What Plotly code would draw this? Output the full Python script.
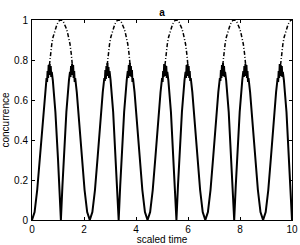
import plotly.graph_objects as go

# ---- data ----
t_solid = [
    0, 0.1, 0.2, 0.3, 0.4, 0.5, 0.56, 0.58, 0.6, 0.62, 0.64, 0.66, 0.68, 0.70, 0.72, 0.74, 0.76, 0.8, 0.9, 1.0, 1.05, 1.111,
    1.17, 1.222, 1.322, 1.422, 1.462, 1.482, 1.502, 1.522, 1.542, 1.562, 1.582, 1.602, 1.622, 1.642, 1.662, 1.722, 1.822, 1.922, 2.022, 2.122, 2.222,
    2.322, 2.422, 2.522, 2.622, 2.722, 2.782, 2.802, 2.822, 2.842, 2.862, 2.882, 2.902, 2.922, 2.942, 2.962, 2.982, 3.022, 3.122, 3.222, 3.272, 3.333,
    3.392, 3.444, 3.544, 3.644, 3.684, 3.704, 3.724, 3.744, 3.764, 3.784, 3.804, 3.824, 3.844, 3.864, 3.884, 3.944, 4.044, 4.144, 4.244, 4.344, 4.444,
    4.544, 4.644, 4.744, 4.844, 4.944, 5.004, 5.024, 5.044, 5.064, 5.084, 5.104, 5.124, 5.144, 5.164, 5.184, 5.204, 5.244, 5.344, 5.444, 5.494, 5.555,
    5.614, 5.666, 5.766, 5.866, 5.906, 5.926, 5.946, 5.966, 5.986, 6.006, 6.026, 6.046, 6.066, 6.086, 6.106, 6.166, 6.266, 6.366, 6.466, 6.566, 6.666,
    6.766, 6.866, 6.966, 7.066, 7.166, 7.226, 7.246, 7.266, 7.286, 7.306, 7.326, 7.346, 7.366, 7.386, 7.406, 7.426, 7.466, 7.566, 7.666, 7.716, 7.777,
    7.836, 7.888, 7.988, 8.088, 8.128, 8.148, 8.168, 8.188, 8.208, 8.228, 8.248, 8.268, 8.288, 8.308, 8.328, 8.388, 8.488, 8.588, 8.688, 8.788, 8.888,
    8.988, 9.088, 9.188, 9.288, 9.388, 9.448, 9.468, 9.488, 9.508, 9.528, 9.548, 9.568, 9.588, 9.608, 9.628, 9.648, 9.688, 9.788, 9.888, 9.938, 10.0,
]
c_solid = [
    0, 0.04, 0.15, 0.31, 0.485, 0.64, 0.71, 0.69, 0.745, 0.71, 0.775, 0.725, 0.78, 0.725, 0.77, 0.715, 0.74, 0.70, 0.54, 0.305, 0.17, 0,
    0.17, 0.305, 0.54, 0.70, 0.74, 0.715, 0.77, 0.725, 0.78, 0.725, 0.775, 0.71, 0.745, 0.69, 0.71, 0.64, 0.485, 0.31, 0.15, 0.04, 0,
    0.04, 0.15, 0.31, 0.485, 0.64, 0.71, 0.695, 0.75, 0.705, 0.77, 0.72, 0.785, 0.73, 0.765, 0.71, 0.745, 0.70, 0.54, 0.305, 0.17, 0,
    0.17, 0.305, 0.54, 0.70, 0.745, 0.71, 0.775, 0.72, 0.785, 0.73, 0.77, 0.715, 0.75, 0.69, 0.71, 0.64, 0.485, 0.31, 0.15, 0.04, 0,
    0.04, 0.15, 0.31, 0.485, 0.64, 0.71, 0.69, 0.745, 0.715, 0.78, 0.725, 0.775, 0.72, 0.77, 0.71, 0.74, 0.70, 0.54, 0.305, 0.17, 0,
    0.17, 0.305, 0.54, 0.70, 0.74, 0.71, 0.775, 0.725, 0.78, 0.72, 0.77, 0.71, 0.745, 0.695, 0.71, 0.64, 0.485, 0.31, 0.15, 0.04, 0,
    0.04, 0.15, 0.31, 0.485, 0.64, 0.71, 0.695, 0.75, 0.71, 0.775, 0.72, 0.785, 0.725, 0.77, 0.715, 0.74, 0.70, 0.54, 0.305, 0.17, 0,
    0.17, 0.305, 0.54, 0.70, 0.745, 0.715, 0.77, 0.72, 0.78, 0.73, 0.775, 0.71, 0.745, 0.69, 0.71, 0.64, 0.485, 0.31, 0.15, 0.04, 0,
    0.04, 0.15, 0.31, 0.485, 0.64, 0.71, 0.69, 0.745, 0.71, 0.78, 0.725, 0.775, 0.72, 0.77, 0.715, 0.74, 0.70, 0.54, 0.305, 0.17, 0,
]

t_dashed = [
    0.671, 0.711, 0.761, 0.811, 0.861, 0.911, 0.961, 1.011, 1.061, 1.111, 1.161, 1.211, 1.261, 1.311, 1.361, 1.411, 1.461, 1.511, 1.551, None,
    2.893, 2.933, 2.983, 3.033, 3.083, 3.133, 3.183, 3.233, 3.283, 3.333, 3.383, 3.433, 3.483, 3.533, 3.583, 3.633, 3.683, 3.733, 3.773, None,
    5.115, 5.155, 5.205, 5.255, 5.305, 5.355, 5.405, 5.455, 5.505, 5.555, 5.605, 5.655, 5.705, 5.755, 5.805, 5.855, 5.905, 5.955, 5.995, None,
    7.337, 7.377, 7.427, 7.477, 7.527, 7.577, 7.627, 7.677, 7.727, 7.777, 7.827, 7.877, 7.927, 7.977, 8.027, 8.077, 8.127, 8.177, 8.217, None,
    9.56, 9.6, 9.65, 9.7, 9.75, 9.8, 9.85, 9.9, 9.95, 10.0,
]
c_dashed = [
    0.775, 0.83, 0.88, 0.915, 0.94, 0.96, 0.978, 0.99, 0.998, 1.0, 0.998, 0.99, 0.978, 0.96, 0.94, 0.915, 0.88, 0.83, 0.775, None,
    0.775, 0.83, 0.88, 0.915, 0.94, 0.96, 0.978, 0.99, 0.998, 1.0, 0.998, 0.99, 0.978, 0.96, 0.94, 0.915, 0.88, 0.83, 0.775, None,
    0.775, 0.83, 0.88, 0.915, 0.94, 0.96, 0.978, 0.99, 0.998, 1.0, 0.998, 0.99, 0.978, 0.96, 0.94, 0.915, 0.88, 0.83, 0.775, None,
    0.775, 0.83, 0.88, 0.915, 0.94, 0.96, 0.978, 0.99, 0.998, 1.0, 0.998, 0.99, 0.978, 0.96, 0.94, 0.915, 0.88, 0.83, 0.775, None,
    0.775, 0.83, 0.88, 0.915, 0.94, 0.96, 0.978, 0.99, 0.998, 1.0,
]

x_ticks = [0, 2, 4, 6, 8, 10]
y_ticks = [0, 0.2, 0.4, 0.6, 0.8, 1]
y_tick_labels = ["0", "0.2", "0.4", "0.6", "0.8", "1"]

fig = go.Figure()
fig.add_trace(go.Scatter(x=t_dashed, y=c_dashed, mode="lines", connectgaps=False,
                         line=dict(color="black", width=1.5, dash="4px,2px,1px,2px"),
                         showlegend=False, hoverinfo="skip"))
fig.add_trace(go.Scatter(x=t_solid, y=c_solid, mode="lines",
                         line=dict(color="black", width=2),
                         showlegend=False, hoverinfo="skip"))

font = dict(family="Liberation Sans, Arial, sans-serif", size=10, color="black")
fig.update_layout(
    width=300, height=245,
    margin=dict(l=32, r=8, t=20, b=25, autoexpand=False),
    paper_bgcolor="white", plot_bgcolor="white",
    font=font,
    title=dict(text="<b>a</b>", x=0.54, xanchor="center", y=0.95, yanchor="middle",
               font=dict(family="Liberation Sans, Arial, sans-serif", size=10, color="black")),
    xaxis=dict(range=[0, 10], tickvals=x_ticks, ticktext=[str(v) for v in x_ticks],
               showline=True, linecolor="black", linewidth=1, mirror="allticks",
               ticks="inside", ticklen=3, tickcolor="black", showgrid=False, zeroline=False,
               automargin=False, ticklabelstandoff=0,
               title=dict(text="scaled time", standoff=0, font=font)),
    yaxis=dict(range=[0, 1], tickvals=y_ticks, ticktext=y_tick_labels,
               showline=True, linecolor="black", linewidth=1, mirror="allticks",
               ticks="inside", ticklen=3, tickcolor="black", showgrid=False, zeroline=False,
               automargin=False, ticklabelstandoff=1,
               title=dict(text="concurrence", standoff=4, font=font)),
)

fig.write_html("out.html", config={"displayModeBar": False},
               post_script="document.body.style.margin='0';document.body.style.overflow='hidden';")
